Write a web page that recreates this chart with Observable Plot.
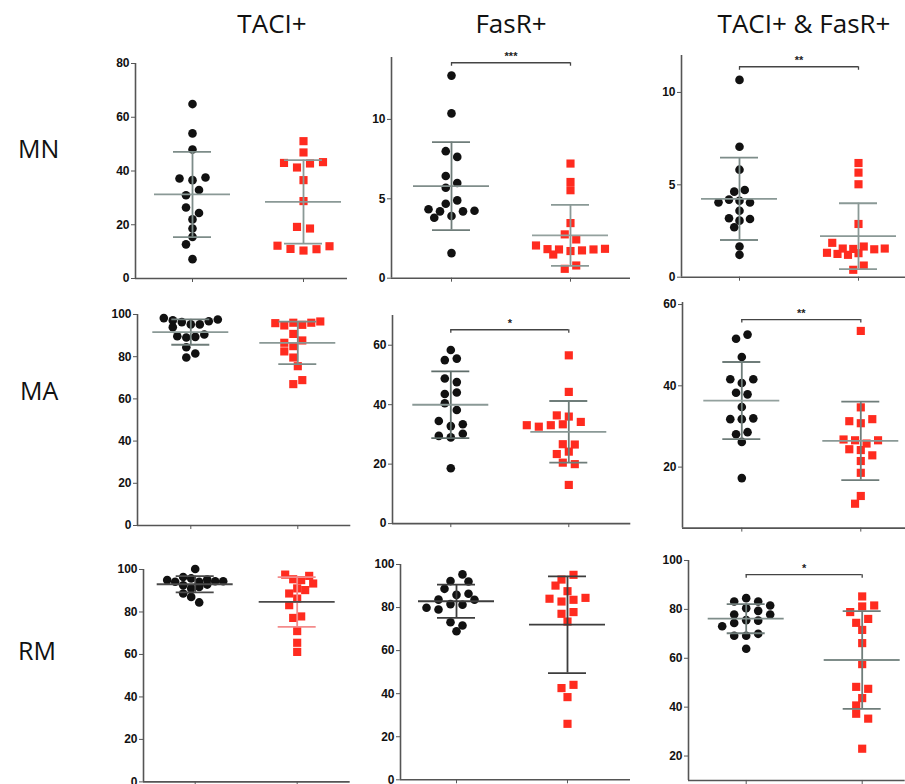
<!DOCTYPE html>
<html><head><meta charset="utf-8">
<script src="https://cdn.jsdelivr.net/npm/d3@7"></script>
<script src="https://cdn.jsdelivr.net/npm/@observablehq/plot@0.6"></script>
<style>
body{margin:0;background:#fff;}
#fig{position:relative;width:905px;height:784px;overflow:hidden;background:#fff;font-family:"Open Sans",sans-serif;}
.col{position:absolute;top:10px;font-size:26px;color:#111;white-space:nowrap;transform:translateX(-50%);line-height:1;}
.rowlab{position:absolute;font-size:25px;color:#111;line-height:1;}
.panel{position:absolute;}
</style></head><body><div id="fig"></div><script>
// ---------- labels ----------
const rowLabels = ["MN", "MA", "RM"];
const colLabels = ["TACI+", "FasR+", "TACI+ & FasR+"];

// ---------- data (black circles = group 1, red squares = group 2) ----------
const MN_TACI_black = [64.9, 54, 48, 37.2, 36.6, 37.6, 31, 32.9, 26.4, 24.4, 22, 18.6, 15.5, 12.7, 7.2];
const MN_TACI_red   = [51.1, 46.9, 43.0, 41.3, 42.8, 43.3, 36.6, 28.8, 19.2, 18.6, 12.2, 11.0, 10.4, 10.9, 12.0];
const MN_FasR_black = [12.76, 10.38, 8.0, 7.64, 6.44, 6.0, 5.7, 4.69, 4.9, 4.34, 4.21, 3.92, 3.81, 4.21, 4.25, 1.58];
const MN_FasR_red   = [7.22, 6.06, 5.54, 3.47, 2.76, 2.44, 2.06, 1.83, 1.81, 1.71, 1.49, 1.75, 1.81, 1.85, 0.59, 0.8];
const MN_Both_black = [10.68, 7.06, 5.82, 4.63, 4.72, 4.05, 4.2, 4.14, 4.04, 3.6, 3.19, 3.06, 3.15, 2.7, 1.66, 1.21];
const MN_Both_red   = [6.18, 5.66, 5.03, 2.88, 1.86, 1.55, 1.53, 1.32, 1.66, 1.26, 1.21, 1.3, 1.51, 1.55, 0.4, 0.63];

const MA_TACI_black = [98.3, 97.2, 96.4, 95.3, 94.0, 95.3, 96.8, 97.6, 89.7, 89.1, 89.4, 90.5, 84.5, 79.6, 81.5];
const MA_TACI_red   = [95.9, 94.8, 96.1, 95.1, 96.1, 96.7, 90.8, 86.6, 87.7, 85.0, 82.5, 79.6, 75.5, 67.0, 68.9];
const MA_FasR_black = [58.4, 55.0, 55.5, 48.8, 47.6, 43.6, 44.1, 40.5, 38.2, 34.5, 32.8, 33.4, 29.5, 29.0, 30.2, 18.6];
const MA_FasR_red   = [56.6, 44.3, 36.4, 36.0, 34.2, 33.1, 32.6, 33.1, 33.4, 26.7, 26.6, 23.4, 24.2, 20.5, 20.0, 13.0];
const MA_Both_black = [51.6, 52.6, 47.1, 41.6, 40.7, 41.6, 38.3, 37.9, 34.8, 31.8, 31.8, 32.0, 28.1, 28.6, 26.2, 17.3];
const MA_Both_red   = [53.5, 34.7, 31.3, 30.8, 31.8, 26.8, 26.6, 25.8, 26.6, 24.4, 24.2, 22.9, 21.5, 18.6, 11.0, 12.9];

const RM_TACI_black = [95.0, 94.2, 96.5, 95.8, 94.2, 95.3, 94.5, 100.2, 94.5, 88.7, 92.6, 91.1, 91.8, 87.1, 92.9, 84.5];
const RM_TACI_red   = [91.1, 97.6, 88.7, 95.4, 86.3, 77.2, 61.2, 71.0, 90.3, 83.2, 77.9, 65.5, 95.0, 93.4, 97.0];
const RM_FasR_black = [83.7, 92.3, 81.6, 88.7, 73.2, 79.9, 92.1, 85.9, 69.0, 79.1, 95.4, 86.4, 71.7, 81.3, 83.6];
const RM_FasR_red   = [84.1, 93.0, 77.1, 90.2, 82.8, 42.6, 73.5, 44.1, 26.0, 95.2, 83.6, 38.4, 87.6, 77.9, 84.5];
const RM_Both_black = [83.2, 77.9, 73.1, 80.5, 75.6, 69.2, 84.6, 79.4, 74.4, 63.9, 69.2, 81.6, 75.4, 70.0, 83.2, 77.9];
const RM_Both_red   = [85.3, 40.7, 78.9, 71.6, 48.3, 37.3, 81.2, 66.2, 57.6, 23.0, 74.5, 43.7, 35.3, 81.6, 76.1, 47.5];

// y domains and tick values per panel
const yDomains = [
  [[0, 80], [0, 13.9], [0, 12]],
  [[0, 100], [0, 70], [5, 60.5]],
  [[0, 100], [0, 100], [10, 100]]
];
const yTicks = [
  [[0, 20, 40, 60, 80], [0, 5, 10], [0, 5, 10]],
  [[0, 20, 40, 60, 80, 100], [0, 20, 40, 60], [20, 40, 60]],
  [[0, 20, 40, 60, 80, 100], [0, 20, 40, 60, 80, 100], [20, 40, 60, 80, 100]]
];
// significance annotations (label and bracket height, in data units)
const sigLabels = [["", "***", "**"], ["", "*", "**"], ["", "", "*"]];
const sigHeights = [[null, 13.57, 11.39], [null, 65.2, 56.3], [null, null, 94.2]];

const panelData = [
  [[MN_TACI_black, MN_TACI_red], [MN_FasR_black, MN_FasR_red], [MN_Both_black, MN_Both_red]],
  [[MA_TACI_black, MA_TACI_red], [MA_FasR_black, MA_FasR_red], [MA_Both_black, MA_Both_red]],
  [[RM_TACI_black, RM_TACI_red], [RM_FasR_black, RM_FasR_red], [RM_Both_black, RM_Both_red]]
];

// ---------- layout (page pixels) ----------
const frames = [
  [{axisX: 135, xEnd: 347, cat0: 192, cat1: 303, top: 63.3, bottom: 278.3, step: 13},
   {axisX: 391, xEnd: 630, cat0: 451, cat1: 570, top: 57, bottom: 277.7, step: 11.5},
   {axisX: 681, xEnd: 905, cat0: 739, cat1: 858, top: 55, bottom: 276.7, step: 10.5}],
  [{axisX: 136.7, xEnd: 350, cat0: 190, cat1: 297, top: 314, bottom: 525, step: 9},
   {axisX: 391.7, xEnd: 630, cat0: 450, cat1: 568, top: 314.6, bottom: 522.7, step: 12},
   {axisX: 681.7, xEnd: 905, cat0: 741, cat1: 860, top: 302, bottom: 527.6, step: 11.5}],
  [{axisX: 143.3, xEnd: 350, cat0: 195, cat1: 297, top: 569.3, bottom: 781.7, step: 8},
   {axisX: 400, xEnd: 630, cat0: 456, cat1: 567, top: 564, bottom: 779.3, step: 12},
   {axisX: 688.3, xEnd: 905, cat0: 746, cat1: 862, top: 560, bottom: 780, step: 12}]
];
const lineStyles = [
  [{mean: ["#8a9996", "#8a9996"], sd: ["#7d8c89", "#8a9996"]},
   {mean: ["#7f8d8a", "#93a19e"], sd: ["#6f7d7a", "#8a9996"]},
   {mean: ["#8a9996", "#8a9996"], sd: ["#7d8c89", "#8a9996"]}],
  [{mean: ["#8a9996", "#8a9996"], sd: ["#6f7d7a", "#7d8c89"]},
   {mean: ["#8a9996", "#8a9996"], sd: ["#5f6d6a", "#6f7d7a"]},
   {mean: ["#93a19e", "#8a9996"], sd: ["#6f7d7a", "#6f7d7a"]}],
  [{mean: ["#4a4a4a", "#4a4a4a"], sd: ["#4a4a4a", "#f38b8b"]},
   {mean: ["#3d3d3d", "#3d3d3d"], sd: ["#3d3d3d", "#3d3d3d"]},
   {mean: ["#7f8d8a", "#7f8d8a"], sd: ["#6f7d7a", "#6f7d7a"]}]
];

// GraphPad-like horizontal spreading: values close in y form a row, spread symmetrically;
// each row is shifted sideways if it would collide with rows already placed.
function spread(vals, pxY, step, rowH = 7, D = 8.5) {
  const order = d3.range(vals.length).sort((a, b) => vals[b] - vals[a]);
  const offs = new Array(vals.length).fill(0);
  const placed = [];
  let row = [], start = null;
  const shifts = [0, -0.5, 0.5, -1, 1, -1.5, 1.5, -2, 2];
  const flush = () => {
    row.sort((a, b) => a - b);
    const base = row.map((i, k) => (k - (row.length - 1) / 2) * step);
    let best = null, bestPen = Infinity;
    for (const s0 of shifts) {
      const s = s0 * step;
      let pen = 0;
      row.forEach((i, k) => placed.forEach(p => {
        const dx = base[k] + s - p.x, dy = (vals[i] - p.v) * pxY;
        const dist = Math.hypot(dx, dy);
        if (dist < D) pen += D - dist;
      }));
      pen += Math.abs(s0) * 0.6;
      if (pen < bestPen - 1e-9) { bestPen = pen; best = s; }
    }
    row.forEach((i, k) => { offs[i] = base[k] + best; placed.push({x: offs[i], v: vals[i]}); });
    row = [];
  };
  for (const i of order) {
    if (row.length && (vals[start] - vals[i]) * pxY >= rowH) flush();
    if (!row.length) start = i;
    row.push(i);
  }
  flush();
  return offs;
}

const fig = document.getElementById("fig");
colLabels.forEach((t, c) => {
  const d = document.createElement("div");
  d.className = "col"; d.textContent = t;
  d.style.left = [272, 511, 804][c] + "px";
  fig.appendChild(d);
});
rowLabels.forEach((t, r) => {
  const d = document.createElement("div");
  d.className = "rowlab"; d.textContent = t;
  d.style.left = [18, 20, 18][r] + "px";
  d.style.top = [136, 378, 638][r] + "px";
  fig.appendChild(d);
});

const meanHalf = 38, capHalf = 19;

for (let r = 0; r < 3; r++) for (let c = 0; c < 3; c++) {
  const f = frames[r][c];
  const [lo, hi] = yDomains[r][c];
  const ls = lineStyles[r][c];
  const ml = 36, mr = f.xEnd >= 905 ? 0 : 2, mt = 16, mb = 8;
  const plotW = f.xEnd - f.axisX, plotH = f.bottom - f.top;
  const width = plotW + ml + mr, height = plotH + mt + mb;
  const pxX = f.cat1 - f.cat0;
  const xmin = -(f.cat0 - f.axisX) / pxX, xmax = 1 + (f.xEnd - f.cat1) / pxX;
  const pxY = plotH / (hi - lo);
  const groups = panelData[r][c];
  const pts = [];
  groups.forEach((vals, g) => {
    const offs = spread(vals, pxY, f.step);
    vals.forEach((v, i) => pts.push({g, v, x: g + offs[i] / pxX}));
  });
  const stats = groups.map((vals, g) => ({g, mean: d3.mean(vals), sd: d3.deviation(vals)}));
  const caps = stats.flatMap(s => [{g: s.g, y: s.mean - s.sd}, {g: s.g, y: s.mean + s.sd}]);

  const marks = [
    Plot.ruleX([xmin], {stroke: "#555", strokeWidth: 1.6}),
    Plot.ruleY([lo], {stroke: "#555", strokeWidth: 1.6}),
    Plot.axisY({ticks: yTicks[r][c], tickSize: 4, tickPadding: 2, fontWeight: "bold", fontSize: 12, stroke: "#555", fill: "#111", label: null}),
    Plot.axisX({ticks: [0, 1], tickSize: 4, tickFormat: () => "", stroke: "#555", label: null}),
    Plot.dot(pts.filter(d => d.g === 0), {x: "x", y: "v", r: 4.3, fill: "#111", symbol: "circle"}),
    Plot.dot(pts.filter(d => d.g === 1), {x: "x", y: "v", r: 4.6, fill: "#ff2b1f", symbol: "square"}),
    Plot.ruleX(stats, {x: "g", y1: d => d.mean - d.sd, y2: d => d.mean + d.sd, stroke: d => ls.sd[d.g], strokeWidth: 1.8}),
    Plot.ruleY(caps, {y: "y", x1: d => d.g - capHalf / pxX, x2: d => d.g + capHalf / pxX, stroke: d => ls.sd[d.g], strokeWidth: 1.8}),
    Plot.ruleY(stats, {y: "mean", x1: d => d.g - meanHalf / pxX, x2: d => d.g + meanHalf / pxX, stroke: d => ls.mean[d.g], strokeWidth: 1.8})
  ];
  const lab = sigLabels[r][c];
  if (lab) {
    const h = sigHeights[r][c];
    marks.push(
      Plot.ruleY([h], {y: d => d, x1: 0, x2: 1, stroke: "#444", strokeWidth: 1.3}),
      Plot.ruleX([0, 1], {x: d => d, y1: h, y2: h - 3.5 / pxY, stroke: "#444", strokeWidth: 1.3}),
      Plot.text([lab], {x: 0.5, y: h, text: d => d, dy: -6, fontWeight: "bold", fontSize: 11, fill: "#222"})
    );
  }
  const svg = Plot.plot({
    width, height,
    marginLeft: ml, marginRight: mr, marginTop: mt, marginBottom: mb,
    x: {type: "linear", domain: [xmin, xmax]},
    y: {domain: [lo, hi]},
    style: {background: "transparent", color: "#222", fontFamily: "'Liberation Sans', Arial, sans-serif", fontSize: "12px"},
    marks
  });
  const div = document.createElement("div");
  div.className = "panel";
  div.style.left = (f.axisX - ml) + "px";
  div.style.top = (f.top - mt) + "px";
  div.appendChild(svg);
  fig.appendChild(div);
}
</script></body></html>
